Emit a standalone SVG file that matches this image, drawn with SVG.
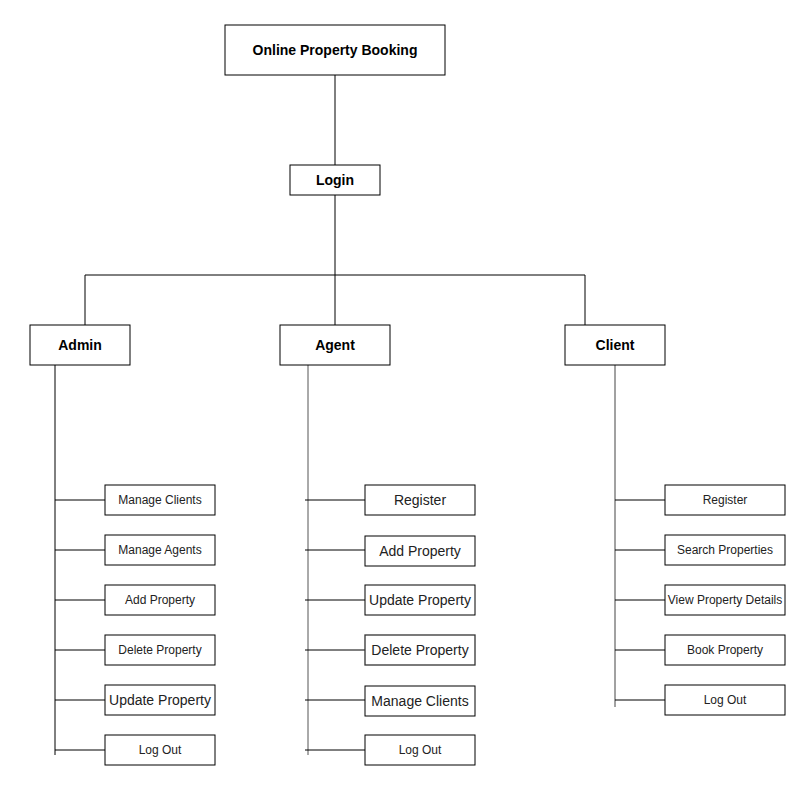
<svg xmlns="http://www.w3.org/2000/svg" width="801" height="801" viewBox="0 0 801 801">
<style>
rect{fill:#fff;stroke:#000;stroke-width:1}
text{font-family:"Liberation Sans",Arial,sans-serif;text-anchor:middle;dominant-baseline:central;fill:#000}
.b{font-weight:bold;font-size:14px}
.s{font-size:12px;fill:#222}
.m{font-size:14px;fill:#222}
#connectors line{stroke:#000;stroke-width:1}
</style>
<rect x="0" y="0" width="801" height="801" style="fill:#fff;stroke:none"/>
<g id="connectors">
<line x1="335" y1="75" x2="335" y2="165"/>
<line x1="335" y1="195" x2="335" y2="275"/>
<line x1="85" y1="275" x2="585" y2="275"/>
<line x1="85" y1="275" x2="85" y2="325"/>
<line x1="335" y1="275" x2="335" y2="325"/>
<line x1="585" y1="275" x2="585" y2="325"/>
<line x1="55" y1="365" x2="55" y2="755"/>
<line x1="55" y1="500" x2="105" y2="500"/>
<line x1="55" y1="550" x2="105" y2="550"/>
<line x1="55" y1="600" x2="105" y2="600"/>
<line x1="55" y1="650" x2="105" y2="650"/>
<line x1="55" y1="700" x2="105" y2="700"/>
<line x1="55" y1="750" x2="105" y2="750"/>
<line x1="308" y1="365" x2="308" y2="755" style="stroke:#555"/>
<line x1="305" y1="500" x2="365" y2="500"/>
<line x1="305" y1="550" x2="365" y2="550"/>
<line x1="305" y1="600" x2="365" y2="600"/>
<line x1="305" y1="650" x2="365" y2="650"/>
<line x1="305" y1="700" x2="365" y2="700"/>
<line x1="305" y1="750" x2="365" y2="750"/>
<line x1="615" y1="365" x2="615" y2="707" style="stroke:#444"/>
<line x1="615" y1="500" x2="665" y2="500"/>
<line x1="615" y1="550" x2="665" y2="550"/>
<line x1="615" y1="600" x2="665" y2="600"/>
<line x1="615" y1="650" x2="665" y2="650"/>
<line x1="615" y1="700" x2="665" y2="700"/>
</g>
<g id="root"><rect x="225" y="25" width="220" height="50"/><text class="b" x="335" y="50">Online Property Booking</text></g>
<g id="login"><rect x="290" y="165" width="90" height="30"/><text class="b" x="335" y="180">Login</text></g>
<g id="admin"><rect x="30" y="325" width="100" height="40"/><text class="b" x="80" y="345">Admin</text></g>
<g id="agent"><rect x="280" y="325" width="110" height="40"/><text class="b" x="335" y="345">Agent</text></g>
<g id="client"><rect x="565" y="325" width="100" height="40"/><text class="b" x="615" y="345">Client</text></g>

<g id="admin-manage-clients"><rect x="105" y="485" width="110" height="30"/><text class="s" x="160" y="500">Manage Clients</text></g>
<g id="admin-manage-agents"><rect x="105" y="535" width="110" height="30"/><text class="s" x="160" y="550">Manage Agents</text></g>
<g id="admin-add-property"><rect x="105" y="585" width="110" height="30"/><text class="s" x="160" y="600">Add Property</text></g>
<g id="admin-delete-property"><rect x="105" y="635" width="110" height="30"/><text class="s" x="160" y="650">Delete Property</text></g>
<g id="admin-update-property"><rect x="105" y="685" width="110" height="30"/><text class="m" x="160" y="700">Update Property</text></g>
<g id="admin-log-out"><rect x="105" y="735" width="110" height="30"/><text class="s" x="160" y="750">Log Out</text></g>

<g id="agent-register"><rect x="365" y="485" width="110" height="30"/><text class="m" x="420" y="500">Register</text></g>
<g id="agent-add-property"><rect x="365" y="536" width="110" height="30"/><text class="m" x="420" y="551">Add Property</text></g>
<g id="agent-update-property"><rect x="365" y="585" width="110" height="30"/><text class="m" x="420" y="600">Update Property</text></g>
<g id="agent-delete-property"><rect x="365" y="635" width="110" height="30" style="stroke:#333;stroke-width:1.3"/><text class="m" x="420" y="650">Delete Property</text></g>
<g id="agent-manage-clients"><rect x="365" y="686" width="110" height="30"/><text class="m" x="420" y="701">Manage Clients</text></g>
<g id="agent-log-out"><rect x="365" y="735" width="110" height="30"/><text class="s" x="420" y="750">Log Out</text></g>

<g id="client-register"><rect x="665" y="485" width="120" height="30"/><text class="s" x="725" y="500">Register</text></g>
<g id="client-search-properties"><rect x="665" y="535" width="120" height="30"/><text class="s" x="725" y="550">Search Properties</text></g>
<g id="client-view-property-details"><rect x="665" y="585" width="120" height="30"/><text class="s" x="725" y="600">View Property Details</text></g>
<g id="client-book-property"><rect x="665" y="635" width="120" height="30"/><text class="s" x="725" y="650">Book Property</text></g>
<g id="client-log-out"><rect x="665" y="685" width="120" height="30"/><text class="s" x="725" y="700">Log Out</text></g>
</svg>
